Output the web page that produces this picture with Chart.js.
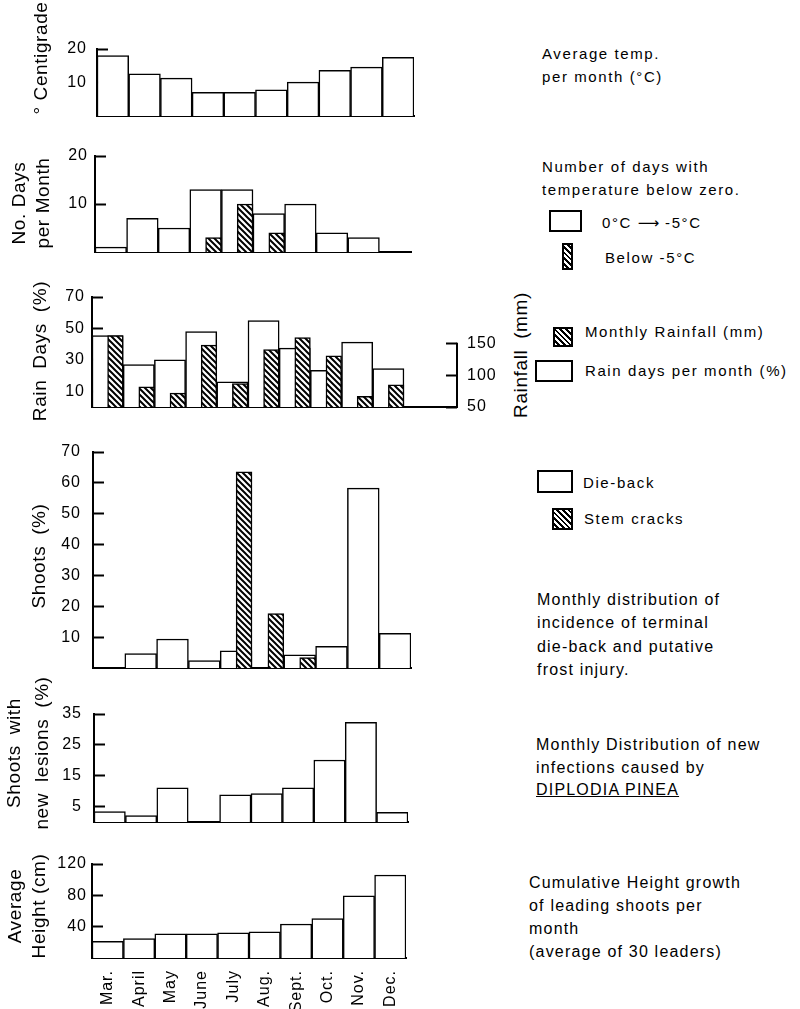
<!DOCTYPE html>
<html>
<head>
<meta charset="utf-8">
<script src="https://cdn.jsdelivr.net/npm/chart.js@4"></script>
<style>
  body { margin: 0; background: #fff; }
  #page { position: relative; width: 800px; height: 1009px; overflow: hidden;
          font-family: "Liberation Sans", Arial, sans-serif; color: #000; }
  .panel { position: absolute; left: 0; }
  .panel canvas { display: block; }
  .t { position: absolute; white-space: nowrap; }
  .s15 { font-size: 15px; letter-spacing: 1.6px; line-height: 22px; }
  .s16 { font-size: 16px; letter-spacing: 1.2px; }
  .rot { position: absolute; white-space: nowrap; text-align: center; font-size: 19px;
         letter-spacing: 0.6px; transform: translate(-50%, -50%) rotate(-90deg); }
  .box { position: absolute; box-sizing: border-box; border: 2px solid #000; background: #fff; }
  .hatch { background: repeating-linear-gradient(45deg, #fff 0 2px, #000 2px 4px); }
  .arrow { font-family: "DejaVu Sans", sans-serif; letter-spacing: 0; }
</style>
</head>
<body>
<div id="page">
  <div class="panel" id="p1"><canvas id="c1"></canvas></div>
  <div class="panel" id="p2"><canvas id="c2"></canvas></div>
  <div class="panel" id="p3"><canvas id="c3"></canvas></div>
  <div class="panel" id="p4"><canvas id="c4"></canvas></div>
  <div class="panel" id="p5"><canvas id="c5"></canvas></div>
  <div class="panel" id="p6"><canvas id="c6"></canvas></div>

  <!-- axis titles -->
  <div class="rot" style="left:41px;top:58px">° Centigrade</div>
  <div class="rot" style="left:31px;top:203px;line-height:24px">No. Days<br>per Month</div>
  <div class="rot" style="left:40px;top:351px;word-spacing:5px">Rain Days (%)</div>
  <div class="rot" style="left:39px;top:556px;word-spacing:5px">Shoots (%)</div>
  <div class="rot" style="left:28px;top:753px;line-height:28px;word-spacing:5px">Shoots with<br>new lesions (%)</div>
  <div class="rot" style="left:27px;top:906px;line-height:24px">Average<br>Height (cm)</div>
  <div class="rot" style="left:521px;top:355px;word-spacing:5px">Rainfall (mm)</div>

  <!-- right-hand captions and keys -->
  <div class="t s15" style="left:542px;top:42px;line-height:23px">Average temp.<br>per month (°C)</div>
  <div class="t s15" style="left:542px;top:155px;line-height:23px">Number of days with<br>temperature below zero.</div>
  <div class="box" style="left:549px;top:210px;width:33px;height:22px"></div>
  <div class="t s15" style="left:602px;top:212px">0°C <span class="arrow">⟶</span> -5°C</div>
  <div class="box hatch" style="left:562px;top:243px;width:11px;height:27px"></div>
  <div class="t s15" style="left:605px;top:247px">Below -5°C</div>

  <div class="box hatch" style="left:553px;top:327px;width:20px;height:20px"></div>
  <div class="t s15" style="left:585px;top:321px">Monthly Rainfall (mm)</div>
  <div class="box" style="left:535px;top:360px;width:38px;height:22px"></div>
  <div class="t s15" style="left:585px;top:360px">Rain days per month (%)</div>

  <div class="box" style="left:537px;top:470px;width:36px;height:23px"></div>
  <div class="t s15" style="left:583px;top:472px">Die-back</div>
  <div class="box hatch" style="left:552px;top:508px;width:21px;height:22px"></div>
  <div class="t s15" style="left:584px;top:508px">Stem cracks</div>
  <div class="t s16" style="left:537px;top:588px;line-height:23.3px">Monthly distribution of<br>incidence of terminal<br>die-back and putative<br>frost injury.</div>

  <div class="t s16" style="left:536px;top:734px;line-height:22.5px">Monthly Distribution of new<br>infections caused by<br><u>DIPLODIA PINEA</u></div>
  <div class="t s16" style="left:529px;top:871px;line-height:23px">Cumulative Height growth<br>of leading shoots per<br>month<br>(average of 30 leaders)</div>
</div>

<script>
const months = ["Mar.", "April", "May", "June", "July", "Aug.", "Sept.", "Oct.", "Nov.", "Dec."];

// average temp per month (°C)
const avgTemp = [18, 12.6, 11.3, 7.1, 7.1, 7.8, 10.1, 13.6, 14.6, 17.5];
const tempTicks = [10, 20];

// days below zero
const frostDays = [1, 7, 5, 13, 13, 8, 10, 4, 3, null];
const hardFrostDays = [null, null, null, 3, 10, 4, null, null, null, null];
const frostTicks = [10, 20];

// rain
const rainDays = [45.5, 27, 30, 48, 16, 55, 37.5, 23.3, 41.3, 24.4];
const rainfall = [163, 82, 72, 148, 87, 141, 160, 131, 67, 85];
const rainDayTicks = [10, 30, 50, 70];
const rainfallTicks = [50, 100, 150];

// die-back and stem cracks (% shoots)
const dieBack = [null, 4.7, 9.4, 2.4, 5.6, null, 4.3, 7, 58.3, 11.2];
const stemCracks = [null, null, null, null, 63.6, 17.6, 3.4, null, null, null];
const shootTicks = [10, 20, 30, 40, 50, 60, 70];

// new lesions (%)
const lesions = [3.4, 2.1, 11.1, null, 8.8, 9.2, 11.1, 20.1, 32.3, 3.1];
const lesionTicks = [5, 15, 25, 35];

// cumulative height (cm)
const heights = [21.3, 24.8, 30.7, 30.7, 32, 33.3, 43.4, 50.2, 79.4, 106];
const heightTicks = [40, 80, 120];

Chart.defaults.font.family = '"Liberation Sans", Arial, sans-serif';
Chart.defaults.color = "#000";

function hatchPattern() {
  const c = document.createElement("canvas");
  c.width = 6;
  c.height = 6;
  const g = c.getContext("2d");
  g.fillStyle = "#fff";
  g.fillRect(0, 0, 6, 6);
  g.strokeStyle = "#000";
  g.lineWidth = 2;
  g.beginPath();
  g.moveTo(-1, -1); g.lineTo(7, 7);
  g.moveTo(-1, 5); g.lineTo(1, 7);
  g.moveTo(5, -1); g.lineTo(7, 1);
  g.stroke();
  return g.createPattern(c, "repeat");
}
const hatch = hatchPattern();

// wide type like the printed figure
const spacing = {
  id: "spacing",
  beforeDraw(chart) { chart.ctx.letterSpacing = "1px"; }
};

function openBars(values) {
  return { data: values, backgroundColor: "#fff", borderColor: "#000", borderWidth: 1.5, grouped: false, order: 2 };
}
function hatchedBars(values, yAxisID) {
  return { data: values, backgroundColor: hatch, borderColor: "#000", borderWidth: 1.5, order: 1, yAxisID: yAxisID || "y" };
}
// empty group member so the hatched bar sits in the right half of its month
function halfSlot() {
  return { data: [], order: 1 };
}

function noPadding(s) {
  s.paddingTop = 0;
  s.paddingBottom = 0;
  s.paddingLeft = 0;
  s.paddingRight = 0;
}

function leftY(max, ticks, frame, pad) {
  return {
    position: "left",
    min: 0,
    max: max,
    afterBuildTicks: (s) => { s.ticks = ticks.map((v) => ({ value: v })); },
    afterFit: (s) => { s.width = frame.left; noPadding(s); },
    grid: { drawOnChartArea: false, drawTicks: true, tickLength: -11, tickWidth: 2, color: "#000" },
    border: { display: true, color: "#000", width: 2 },
    ticks: { padding: pad, font: { size: 16 }, color: "#000", autoSkip: false }
  };
}

function baseX(extra) {
  return Object.assign({
    grid: { display: false, drawTicks: false },
    border: { display: true, color: "#000", width: 2 },
    ticks: { display: false },
    afterFit: (s) => { s.height = 0; noPadding(s); }
  }, extra);
}

function panel(id, frame, datasets, scales, plugins) {
  const padTop = 12, padBottom = 4;
  const xh = frame.xAxisHeight || 0;
  const width = frame.width || 440;
  const canvas = document.getElementById(id);
  canvas.width = width;
  canvas.height = frame.bottom - frame.top + padTop + padBottom + xh;
  canvas.parentElement.style.top = (frame.top - padTop) + "px";
  return new Chart(canvas, {
    type: "bar",
    data: { labels: months, datasets: datasets },
    options: {
      responsive: false,
      devicePixelRatio: 1,
      animation: false,
      events: [],
      layout: { padding: { left: 0, top: padTop, bottom: padBottom, right: width - frame.right - (frame.rightAxis || 0) } },
      datasets: { bar: { barPercentage: 1, categoryPercentage: 1 } },
      plugins: { legend: { display: false }, tooltip: { enabled: false } },
      scales: scales
    },
    plugins: [spacing].concat(plugins || [])
  });
}

// 1. temperature
const f1 = { top: 49, bottom: 116, left: 97, right: 414 };
panel("c1", f1, [openBars(avgTemp)], { x: baseX(), y: leftY(20, tempTicks, f1, 21) });

// 2. frost days
const f2 = { top: 156, bottom: 252, left: 95, right: 411 };
panel("c2", f2, [halfSlot(), hatchedBars(hardFrostDays), openBars(frostDays)],
  { x: baseX(), y: leftY(20, frostTicks, f2, 18) });

// 3. rain days and rainfall, with a rainfall axis on the right
const f3 = { top: 297, bottom: 407, left: 92, right: 457, width: 510, rightAxis: 50 };
const rainfallAxis = {
  id: "rainfallAxis",
  afterDraw(chart) {
    const s = chart.scales.y2;
    const ctx = chart.ctx;
    ctx.save();
    ctx.strokeStyle = "#000";
    ctx.lineWidth = 2;
    ctx.beginPath();
    ctx.moveTo(s.left, s.getPixelForValue(rainfallTicks[rainfallTicks.length - 1]) - 1);
    ctx.lineTo(s.left, s.bottom + 1);
    ctx.stroke();
    ctx.restore();
  }
};
panel("c3", f3, [halfSlot(), hatchedBars(rainfall, "y2"), openBars(rainDays)], {
  x: baseX({ afterBuildTicks: (s) => { s._valueRange = 11.7; } }),
  y: leftY(70, rainDayTicks, f3, 18),
  y2: {
    position: "right",
    min: 50,
    max: 224,
    afterBuildTicks: (s) => { s.ticks = rainfallTicks.map((v) => ({ value: v })); },
    afterFit: (s) => { s.width = f3.rightAxis; noPadding(s); },
    grid: { drawOnChartArea: false, drawTicks: true, tickLength: -11, tickWidth: 2, color: "#000" },
    border: { display: false },
    ticks: { padding: 21, font: { size: 16 }, color: "#000", autoSkip: false }
  }
}, [rainfallAxis]);

// 4. die-back and stem cracks
const f4 = { top: 452, bottom: 668, left: 93, right: 411 };
panel("c4", f4, [halfSlot(), hatchedBars(stemCracks), openBars(dieBack)],
  { x: baseX(), y: leftY(70, shootTicks, f4, 23) });

// 5. new lesions
const f5 = { top: 714, bottom: 822, left: 94, right: 408 };
panel("c5", f5, [openBars(lesions)], { x: baseX(), y: leftY(35, lesionTicks, f5, 23) });

// 6. cumulative height, with the month labels
const f6 = { top: 864, bottom: 958, left: 92, right: 406, xAxisHeight: 51 };
panel("c6", f6, [openBars(heights)], {
  x: baseX({
    ticks: { display: true, minRotation: 90, maxRotation: 90, padding: 12, font: { size: 16 }, color: "#000", autoSkip: false },
    afterFit: (s) => { s.height = f6.xAxisHeight; noPadding(s); }
  }),
  y: leftY(120, heightTicks, f6, 16)
});
</script>
</body>
</html>
